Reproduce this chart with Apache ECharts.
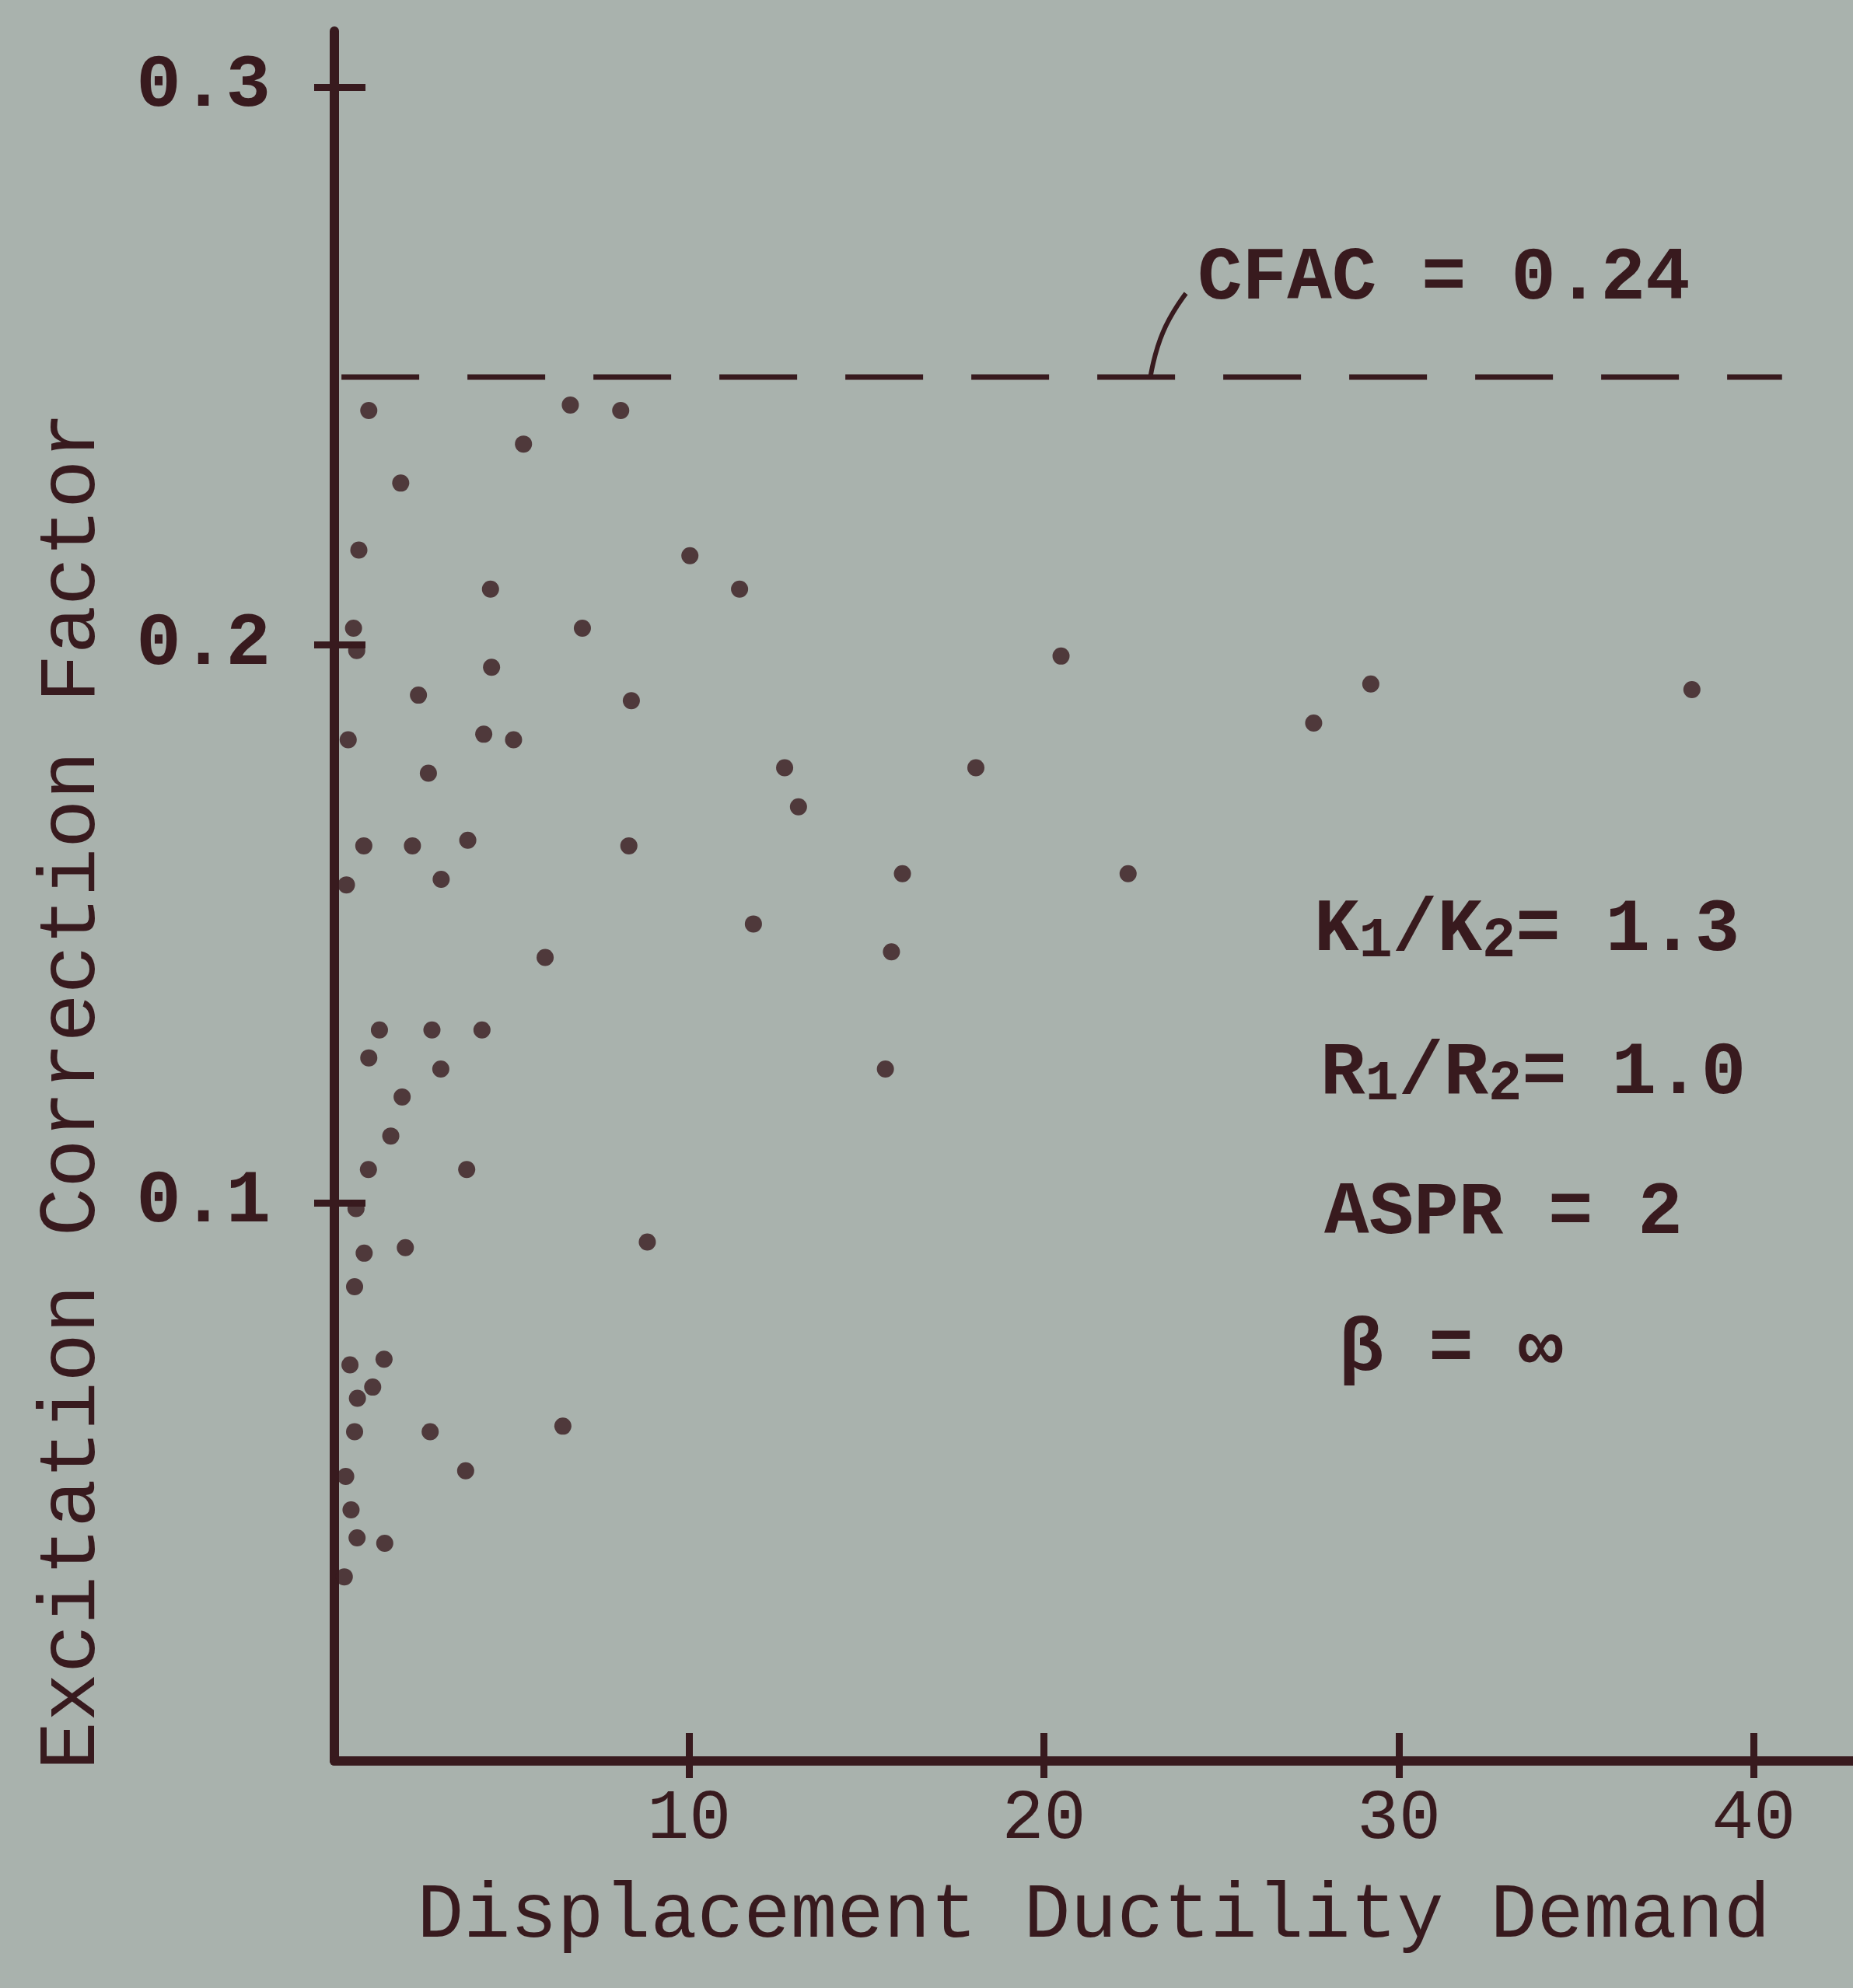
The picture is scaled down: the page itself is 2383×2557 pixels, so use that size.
<!DOCTYPE html>
<html>
<head>
<meta charset="utf-8">
<script src="https://cdn.jsdelivr.net/npm/echarts@6/dist/echarts.min.js"></script>
<style>
  html, body { margin: 0; padding: 0; background: #a9b2ad; }
  #chart { width: 2383px; height: 2557px; }
</style>
</head>
<body>
<div id="chart"></div>
<script>
// values
const ductility = [0.97, 6.65, 8.07, 5.33, 1.87, 0.69, 10.02, 11.42, 4.40, 6.99,
  0.54, 0.63, 4.43, 20.48, 29.21, 38.26, 27.60, 2.37, 8.37, 0.39,
  4.21, 5.05, 2.65, 12.69, 18.08, 13.08, 0.83, 2.20, 3.76, 8.30,
  22.37, 16.01, 3.01, 0.34, 11.81, 15.70, 5.94, 1.27, 2.75, 4.16,
  0.97, 3.00, 1.91, 1.59, 15.53, 0.96, 3.73, 0.61, 8.82, 0.84,
  2.00, 0.57, 1.40, 0.44, 1.08, 0.65, 0.57, 2.70, 6.44, 3.70,
  0.32, 0.47, 0.64, 1.42, 0.28];
const factor = [0.242, 0.243, 0.242, 0.236, 0.229, 0.217, 0.216, 0.210, 0.210, 0.203,
  0.203, 0.199, 0.196, 0.198, 0.193, 0.192, 0.186, 0.191, 0.190, 0.183,
  0.184, 0.183, 0.177, 0.178, 0.178, 0.171, 0.164, 0.164, 0.165, 0.164,
  0.159, 0.159, 0.158, 0.157, 0.150, 0.145, 0.144, 0.131, 0.131, 0.131,
  0.126, 0.124, 0.119, 0.112, 0.124, 0.106, 0.106, 0.099, 0.093, 0.091,
  0.092, 0.085, 0.072, 0.071, 0.067, 0.065, 0.059, 0.059, 0.060, 0.052,
  0.051, 0.045, 0.040, 0.039, 0.033];

const xTicks = [10, 20, 30, 40];
const yTicks = [0.1, 0.2, 0.3];

// CFAC dashed line (drawn where it sits on the plot) and its leader
const cfacX = [0.2, 40.8];
const cfacY = [0.248, 0.248];
const leaderX = [23.0, 23.35, 24.0];
const leaderY = [0.248, 0.256, 0.263];

const ink = '#381a1e';
const paper = '#a9b2ad';
const mono = "'Liberation Mono', 'DejaVu Sans Mono', monospace";

const chart = echarts.init(document.getElementById('chart'));

const pts = ductility.map((d, i) => [d, factor[i]]);

const textRich = {
  a: { fontFamily: mono, fontSize: 96, fontWeight: 'bold', color: ink, lineHeight: 100, verticalAlign: 'middle' },
  s: { fontFamily: mono, fontSize: 72, fontWeight: 'bold', color: ink, lineHeight: 52, verticalAlign: 'bottom' }
};

function note(x, y, text) {
  return {
    type: 'text', x: x, y: y,
    style: { text: text, rich: textRich, textVerticalAlign: 'middle', fill: ink }
  };
}

const option = {
  backgroundColor: paper,
  animation: false,
  grid: { left: 430, right: 0, top: 40, bottom: 292, containLabel: false },
  xAxis: [
    {
      type: 'value', min: 0, max: 42.8, interval: 10,
      axisLine: { show: true, lineStyle: { color: ink, width: 12 } },
      axisTick: { show: true, customValues: xTicks, length: 22, lineStyle: { color: ink, width: 9 } },
      axisLabel: {
        customValues: xTicks, margin: 30, color: ink,
        fontFamily: mono, fontSize: 90
      },
      splitLine: { show: false },
      name: 'Displacement Ductility Demand',
      nameLocation: 'middle', nameGap: 150,
      nameTextStyle: { color: ink, fontFamily: mono, fontSize: 100 }
    },
    {
      type: 'value', min: 0, max: 42.8, interval: 10, position: 'bottom',
      axisLine: { show: false },
      axisTick: { show: true, inside: true, customValues: xTicks, length: 36, lineStyle: { color: ink, width: 9 } },
      axisLabel: { show: false },
      splitLine: { show: false }
    }
  ],
  yAxis: [
    {
      type: 'value', min: 0, max: 0.31, interval: 0.1,
      axisLine: { show: true, lineStyle: { color: ink, width: 12 } },
      axisTick: { show: true, customValues: yTicks, length: 26, lineStyle: { color: ink, width: 9 } },
      axisLabel: {
        customValues: yTicks, margin: 82, color: ink,
        fontFamily: mono, fontSize: 96, fontWeight: 'bold',
        formatter: v => v.toFixed(1)
      },
      splitLine: { show: false }
    },
    {
      type: 'value', min: 0, max: 0.31, interval: 0.1, position: 'left',
      axisLine: { show: false },
      axisTick: { show: true, inside: true, customValues: yTicks, length: 40, lineStyle: { color: ink, width: 9 } },
      axisLabel: { show: false },
      splitLine: { show: false }
    }
  ],
  series: [
    {
      type: 'scatter', data: pts, symbol: 'circle', symbolSize: 22,
      itemStyle: { color: ink }
    },
    {
      type: 'line', data: cfacX.map((x, i) => [x, cfacY[i]]),
      symbol: 'none',
      lineStyle: { color: ink, width: 7, type: [100, 62] }
    },
    {
      type: 'line', data: leaderX.map((x, i) => [x, leaderY[i]]),
      symbol: 'none', smooth: true,
      lineStyle: { color: ink, width: 6 }
    }
  ],
  graphic: [
    {
      type: 'text', x: 93, y: 1403, rotation: Math.PI / 2,
      style: {
        text: 'Excitation Correction Factor', fill: ink,
        font: "104px 'Liberation Mono', 'DejaVu Sans Mono', monospace",
        textAlign: 'center', textVerticalAlign: 'middle'
      }
    },
    note(1540, 360, '{a|CFAC = 0.24}'),
    note(1690, 1198, '{a|K}{s|1}{a|/K}{s|2}{a|= 1.3}'),
    note(1698, 1382, '{a|R}{s|1}{a|/R}{s|2}{a|= 1.0}'),
    note(1703, 1562, '{a|ASPR = 2}'),
    note(1722, 1738, '{a|β = ∞}')
  ]
};

chart.setOption(option);
</script>
</body>
</html>
